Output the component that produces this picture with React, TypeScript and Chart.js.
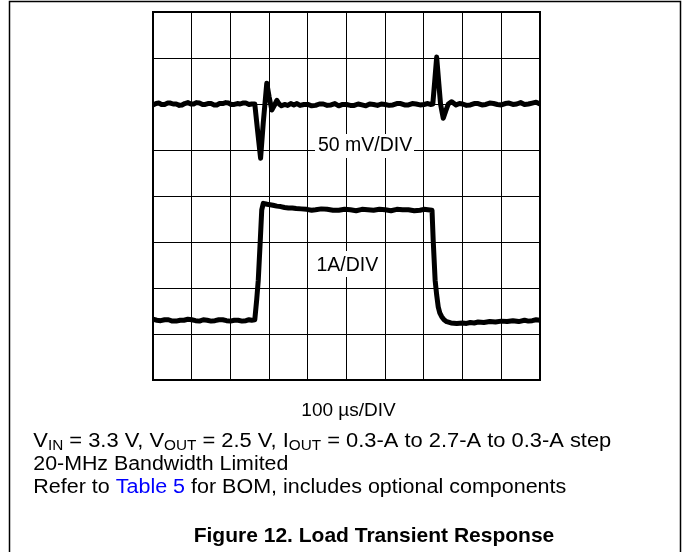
import React, { useEffect, useRef } from "react";
import { Chart, registerables } from "chart.js";
Chart.register(...registerables);

// Time base: 100 µs/DIV, 10 divisions
const timeMinUs = 0;
const timeMaxUs = 1000;
const timeStepUs = 100;

// Output voltage deviation trace (50 mV/DIV), in mV relative to 2.5 V
const timeVoltUs = [
  0, 8, 15, 22, 30, 38, 45, 52, 60, 68, 75, 82, 90, 98, 105, 112, 120, 128, 135, 142,
  150, 158, 165, 172, 180, 188, 195, 202, 210, 218, 225, 232, 240, 248, 255, 263,
  270, 278, 285, 294, 300, 307, 313, 320, 326, 332, 340, 348, 356, 364, 372, 380, 390,
  400, 410, 420, 430, 440, 450, 460, 470, 480, 490, 500, 510, 520, 530, 540, 550, 560,
  570, 580, 590, 600, 610, 620, 630, 640, 650, 660, 670, 680, 690, 700, 710, 717, 723,
  728, 733, 738, 743, 750, 756, 763, 772, 783, 792, 800, 810, 820, 830, 840, 850, 860,
  870, 880, 890, 900, 910, 920, 930, 940, 950, 960, 970, 980, 990, 1000,
];
const voltDevMv = [
  -1, 0.5, 1, -0.5, -0.5, 1, 1, 0, 0, -1.5, -1, 0.5, 1.5, 0, 0, 1.5, 1, -0.5, -0.5, 0.5,
  0.5, -1, -1, 0.5, 0.5, 1.5, 1, -0.5, -0.5, 0.5, 0, 1, 1, -0.5, 0, 0,
  -28, -59, -20, 22.5, 8, -6.5, -2, 4, 0, -2, -0.5, -1.5, 0.5, -1, 0.5, -1.5, -0.5,
  -0.5, -2, -1.5, 0, 0, -1.5, -1, 0.5, -2, -0.5, -0.5, -1.5, -1.5, 0, -1, -2, 0,
  -0.5, -1.5, 0, -0.5, -1.5, -1, 0.5, 0.5, -1, -1, 0.5, 0, -1, -0.5, 0.5, -0.5, 0,
  25, 51, 25, 0, -15.5, -8, 0, 2.5, -1, 0.5, 0, -1.5, -1, 0.5, 0.5, -1, -0.5,
  1, 0.5, -0.5, -1, 0.5, 1, -0.5, 0, 1.5, -0.5, 0, 1, 2, 0,
];

// Output current trace (1 A/DIV), in A
const timeCurrUs = [
  0, 10, 20, 30, 40, 50, 60, 70, 80, 90, 100, 110, 120, 130, 140, 150, 160, 170, 180,
  190, 200, 210, 220, 230, 240, 248, 255, 263, 268, 272, 277, 281, 285, 295, 310, 320,
  330, 340, 350, 360, 370, 383, 397, 410, 420, 435, 450, 465, 480, 495, 510, 525, 540,
  555, 570, 585, 600, 615, 630, 645, 660, 675, 690, 700, 710, 721, 724, 729, 733, 737,
  741, 746, 752, 759, 770, 785, 800, 810, 820, 830, 840, 855, 870, 885, 900, 915, 930,
  945, 960, 970, 980, 990, 1000,
];
const currentA = [
  0.32, 0.3, 0.29, 0.31, 0.31, 0.28, 0.28, 0.3, 0.3, 0.32, 0.31, 0.29, 0.28, 0.31, 0.3,
  0.28, 0.29, 0.31, 0.31, 0.29, 0.28, 0.3, 0.3, 0.28, 0.29, 0.31, 0.3, 0.31,
  0.75, 1.17, 2.0, 2.7, 2.84, 2.82, 2.8, 2.78, 2.77, 2.75, 2.74, 2.74, 2.73, 2.72, 2.71,
  2.69, 2.7, 2.72, 2.71, 2.69, 2.69, 2.71, 2.7, 2.68, 2.71, 2.7, 2.69, 2.71, 2.7, 2.68,
  2.71, 2.7, 2.7, 2.68, 2.69, 2.71, 2.7, 2.69, 2.04, 1.17, 0.85, 0.59, 0.46, 0.376,
  0.31, 0.267, 0.24, 0.23, 0.24, 0.23, 0.25, 0.24, 0.26, 0.25, 0.27, 0.26, 0.28, 0.27,
  0.29, 0.27, 0.3, 0.28, 0.29, 0.31, 0.3,
];

// Vertical scales: 8 divisions each
const voltAxis = { min: -300, max: 100, step: 50 };
const currAxis = { min: -1, max: 7 };

const labelVolt = "50 mV/DIV";
const labelCurr = "1A/DIV";
const labelTime = "100 µs/DIV";
const captionLine2 = "20-MHz Bandwidth Limited";
const figureTitle = "Figure 12. Load Transient Response";

const FONT = '"Liberation Sans", Arial, Helvetica, sans-serif';

type Run = { t: string; sub?: boolean; color?: string };

function drawRuns(ctx: CanvasRenderingContext2D, runs: Run[], x0: number, base: number, targetW: number) {
  const big = `20px ${FONT}`;
  const small = `14px ${FONT}`;
  let w = 0;
  for (const r of runs) {
    ctx.font = r.sub ? small : big;
    w += ctx.measureText(r.t).width;
  }
  const sx = targetW / w;
  ctx.save();
  ctx.translate(x0, 0);
  ctx.scale(sx, 1);
  let x = 0;
  for (const r of runs) {
    ctx.font = r.sub ? small : big;
    ctx.fillStyle = r.color || "#000";
    ctx.fillText(r.t, x, r.sub ? base + 3.5 : base);
    x += ctx.measureText(r.t).width;
  }
  ctx.restore();
}

const overlayPlugin = {
  id: "overlay",
  beforeDatasetsDraw(chart: any) {
    const { ctx, chartArea: a } = chart;
    ctx.save();
    ctx.strokeStyle = "#000";
    ctx.lineWidth = 2;
    ctx.strokeRect(a.left, a.top, a.right - a.left, a.bottom - a.top);

    ctx.fillStyle = "#fff";
    ctx.fillRect(315, 134, 99, 24);
    ctx.fillRect(314, 251, 68, 26);
    ctx.fillStyle = "#000";
    ctx.font = `19.5px ${FONT}`;
    ctx.textBaseline = "alphabetic";
    ctx.textAlign = "left";
    ctx.fillText(labelVolt, 318, 151);
    ctx.fillText(labelCurr, 316.5, 270.5);
    ctx.restore();
  },
  afterDraw(chart: any) {
    const { ctx } = chart;
    ctx.save();
    // outer frame
    ctx.strokeStyle = "#000";
    ctx.lineWidth = 1.5;
    ctx.beginPath();
    ctx.moveTo(9.5, 552);
    ctx.lineTo(9.5, 1.5);
    ctx.lineTo(680.5, 1.5);
    ctx.lineTo(680.5, 552);
    ctx.stroke();

    ctx.fillStyle = "#000";
    ctx.textBaseline = "alphabetic";
    ctx.font = `19px ${FONT}`;
    ctx.textAlign = "center";
    ctx.fillText(labelTime, 348.5, 416);

    ctx.textAlign = "left";
    drawRuns(
      ctx,
      [
        { t: "V" }, { t: "IN", sub: true }, { t: " = 3.3 V, V" }, { t: "OUT", sub: true },
        { t: " = 2.5 V, I" }, { t: "OUT", sub: true }, { t: " = 0.3-A to 2.7-A to 0.3-A step" },
      ],
      33.3, 446.7, 578
    );
    drawRuns(ctx, [{ t: captionLine2 }], 33.3, 470, 255);
    drawRuns(
      ctx,
      [
        { t: "Refer to " }, { t: "Table 5", color: "#0000ff" },
        { t: " for BOM, includes optional components" },
      ],
      33.3, 492.7, 533
    );

    ctx.fillStyle = "#000";
    ctx.font = `bold 21px ${FONT}`;
    ctx.textAlign = "center";
    ctx.fillText(figureTitle, 374, 541.7);
    ctx.restore();
  },
};

export default function App() {
  const ref = useRef<HTMLCanvasElement | null>(null);
  useEffect(() => {
    if (!ref.current) return;
    const voltPts = timeVoltUs.map((t, i) => ({ x: t, y: voltDevMv[i] }));
    const currPts = timeCurrUs.map((t, i) => ({ x: t, y: currentA[i] }));
    const lineStyle = {
      borderColor: "#000",
      borderWidth: 5,
      pointRadius: 0,
      tension: 0,
      fill: false,
      borderJoinStyle: "round" as const,
      borderCapStyle: "round" as const,
    };
    const chart = new Chart(ref.current, {
      type: "line",
      data: {
        datasets: [
          { label: "VOUT", data: voltPts, yAxisID: "y", ...lineStyle },
          { label: "IOUT", data: currPts, yAxisID: "yI", ...lineStyle },
        ],
      },
      options: {
        animation: false,
        responsive: false,
        maintainAspectRatio: false,
        layout: { padding: { left: 153, right: 143, top: 12, bottom: 172 } },
        plugins: { legend: { display: false }, tooltip: { enabled: false } },
        scales: {
          x: {
            type: "linear",
            min: timeMinUs,
            max: timeMaxUs,
            ticks: { display: false, stepSize: timeStepUs },
            grid: { color: "#000", lineWidth: 1, drawTicks: false },
            border: { display: false },
          },
          y: {
            type: "linear",
            position: "left",
            min: voltAxis.min,
            max: voltAxis.max,
            ticks: { display: false, stepSize: voltAxis.step },
            grid: { color: "#000", lineWidth: 1, drawTicks: false },
            border: { display: false },
          },
          yI: {
            type: "linear",
            display: false,
            min: currAxis.min,
            max: currAxis.max,
          },
        },
      },
      plugins: [overlayPlugin],
    });
    return () => chart.destroy();
  }, []);
  return (
    <div style={{ position: "absolute", left: 0, top: 0, width: 683, height: 552, background: "#fff" }}>
      <canvas ref={ref} width={683} height={552} style={{ width: 683, height: 552, display: "block" }} />
    </div>
  );
}
